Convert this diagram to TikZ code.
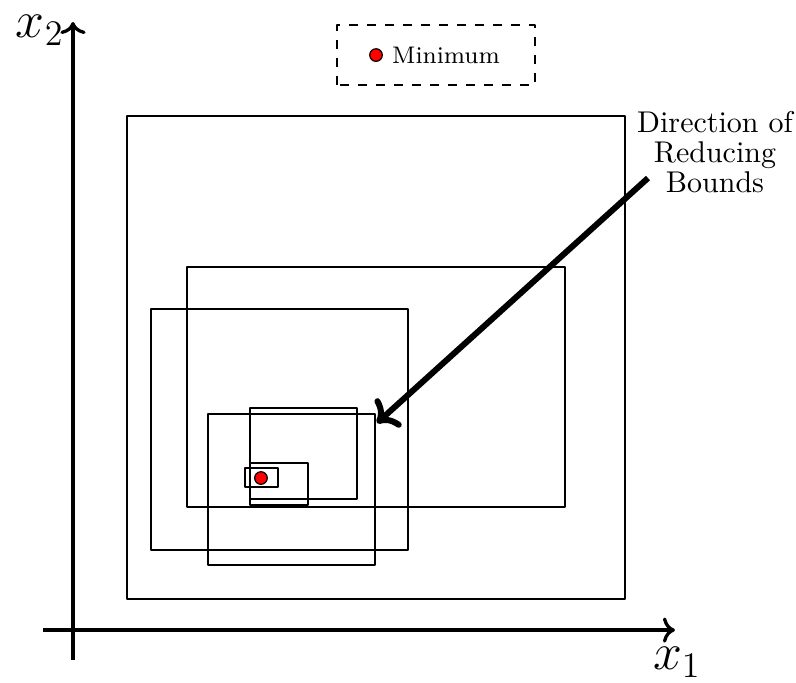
\documentclass[tikz,border=0pt]{standalone}
\usepackage{amsmath}
\usepackage{xcolor}
\usepackage{tikz}
\usetikzlibrary{arrows.meta,calc,positioning}

\begin{document}
\begin{tikzpicture}[>=To,scale=1.0,line join=round]
    \useasboundingbox (-0.855,-0.609) rectangle (8.470,7.381);
    % ============ Axes ============
    \coordinate (O)  at (0,0);
    \coordinate (X1) at (7.052,0);
    \coordinate (X2) at (0,7.123);
    \draw[->,line width=1.1pt] (-0.351,0) -- (X1);
    \draw[->,line width=1.1pt] (0,-0.351) -- (X2);
    \node[font=\LARGE,inner sep=1pt] (x1lab) at (7.076,-0.375) {$x_1$};
    \node[font=\LARGE,inner sep=1pt] (x2lab) at (-0.387,7.030) {$x_2$};
    % ============ Shrinking bound boxes ============
    \draw[line width=0.5pt] (0.633,0.363) rectangle (6.467,6.022);
    \draw[line width=0.5pt] (1.336,1.441) rectangle (5.764,4.253);
    \draw[line width=0.5pt] (0.914,0.937) rectangle (3.925,3.761);
    \draw[line width=0.5pt] (1.582,0.761) rectangle (3.538,2.530);
    \draw[line width=0.5pt] (2.074,1.535) rectangle (3.327,2.601);
    \draw[line width=0.5pt] (2.074,1.464) rectangle (2.753,1.956);
    \draw[line width=0.5pt] (2.015,1.675) rectangle (2.402,1.898);
    \draw[fill=red,line width=0.4pt] (2.202,1.781) circle (2.1pt);
    % ============ Legend ============
    \draw[dashed,line width=0.5pt] (3.093,6.385) rectangle (5.412,7.087);
    \draw[fill=red,line width=0.4pt] (3.550,6.736) circle (2.1pt);
    \node[font=\footnotesize] (minlab) at (4.370,6.736) {Minimum};
    % ============ Direction of reducing bounds ============
    \node[align=center,inner sep=1pt] (dirlab) at (7.521,5.600)
      {Direction of\\[-2pt]Reducing\\[-2pt]Bounds};
    \coordinate (Astart) at (6.736,5.295);
    \coordinate (Aend)   at (3.561,2.425);
    \draw[->,line width=2pt] (Astart) -- (Aend);
  \end{tikzpicture}
\end{document}
